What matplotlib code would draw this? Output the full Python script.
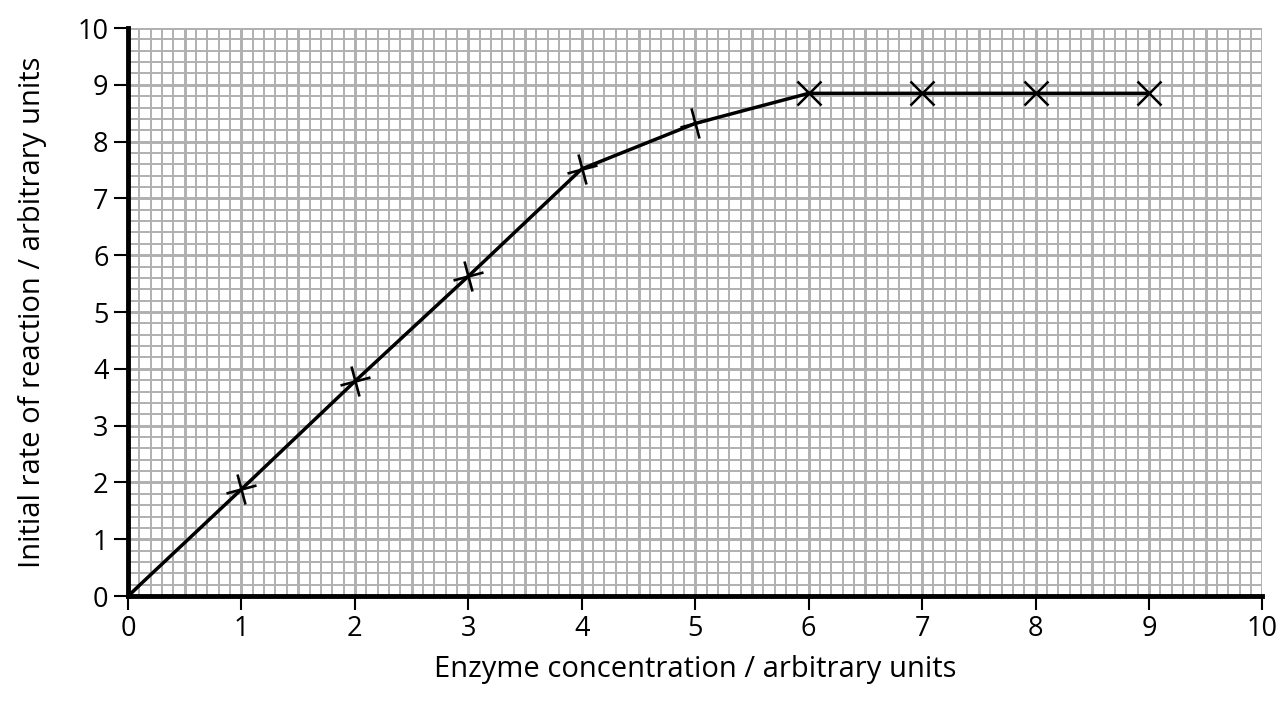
import matplotlib
matplotlib.use("Agg")
import matplotlib.pyplot as plt
from matplotlib.markers import MarkerStyle
from matplotlib.transforms import Affine2D
import numpy as np

plt.rcParams['font.family'] = ['Open Sans', 'DejaVu Sans']

# data
enzyme_conc = [0, 1, 2, 3, 4, 5, 6, 7, 8, 9]
initial_rate = [0, 1.88, 3.78, 5.63, 7.52, 8.32, 8.85, 8.85, 8.85, 8.85]
# which points are drawn as tilted "+" instead of "x"
plus_points = [1, 2, 3, 4, 5]

x_ticks = list(range(0, 11))
y_ticks = list(range(0, 11))

fig = plt.figure(figsize=(12.84, 7.11), dpi=100)
ax = fig.add_axes([0.0997, 0.1617, 0.8835, 0.7989])

# graph-paper grid
grey = '#b0b0b0'
for v in np.arange(0, 10.001, 0.1):
    major = abs(v * 2 - round(v * 2)) < 1e-6
    ax.axvline(v, color=grey, lw=2.1 if major else 1.4, zorder=0)
for v in np.arange(0, 10.001, 0.2):
    major = abs(v - round(v)) < 1e-6
    ax.axhline(v, color=grey, lw=2.1 if major else 1.4, zorder=0)

ax.plot(enzyme_conc, initial_rate, color='black', lw=2.5, zorder=3)

xs_plus = [x for x, y in zip(enzyme_conc, initial_rate) if x in plus_points]
ys_plus = [y for x, y in zip(enzyme_conc, initial_rate) if x in plus_points]
xs_x = [x for x, y in zip(enzyme_conc, initial_rate) if x not in plus_points]
ys_x = [y for x, y in zip(enzyme_conc, initial_rate) if x not in plus_points]

tilted = MarkerStyle('+', transform=Affine2D().rotate_deg(15))
ax.plot(xs_plus, ys_plus, linestyle='none', marker=tilted, ms=22, mew=1.9,
        color='black', zorder=4)
ax.plot(xs_x, ys_x, linestyle='none', marker='x', ms=17, mew=1.8,
        color='black', zorder=4)

ax.set_xlim(0, 10)
ax.set_ylim(0, 10)
ax.set_xticks(x_ticks)
ax.set_yticks(y_ticks)
ax.tick_params(direction='out', length=10, width=1.5, labelsize=19.5, pad=4)

for s in ['top', 'right']:
    ax.spines[s].set_visible(False)
for s in ['left', 'bottom']:
    ax.spines[s].set_linewidth(3.5)
    ax.spines[s].set_zorder(5)

ax.set_xlabel('Enzyme concentration / arbitrary units', fontsize=21, labelpad=8)
ax.set_ylabel('Initial rate of reaction / arbitrary units', fontsize=21, labelpad=22)

fig.savefig('out.png', dpi=100)
